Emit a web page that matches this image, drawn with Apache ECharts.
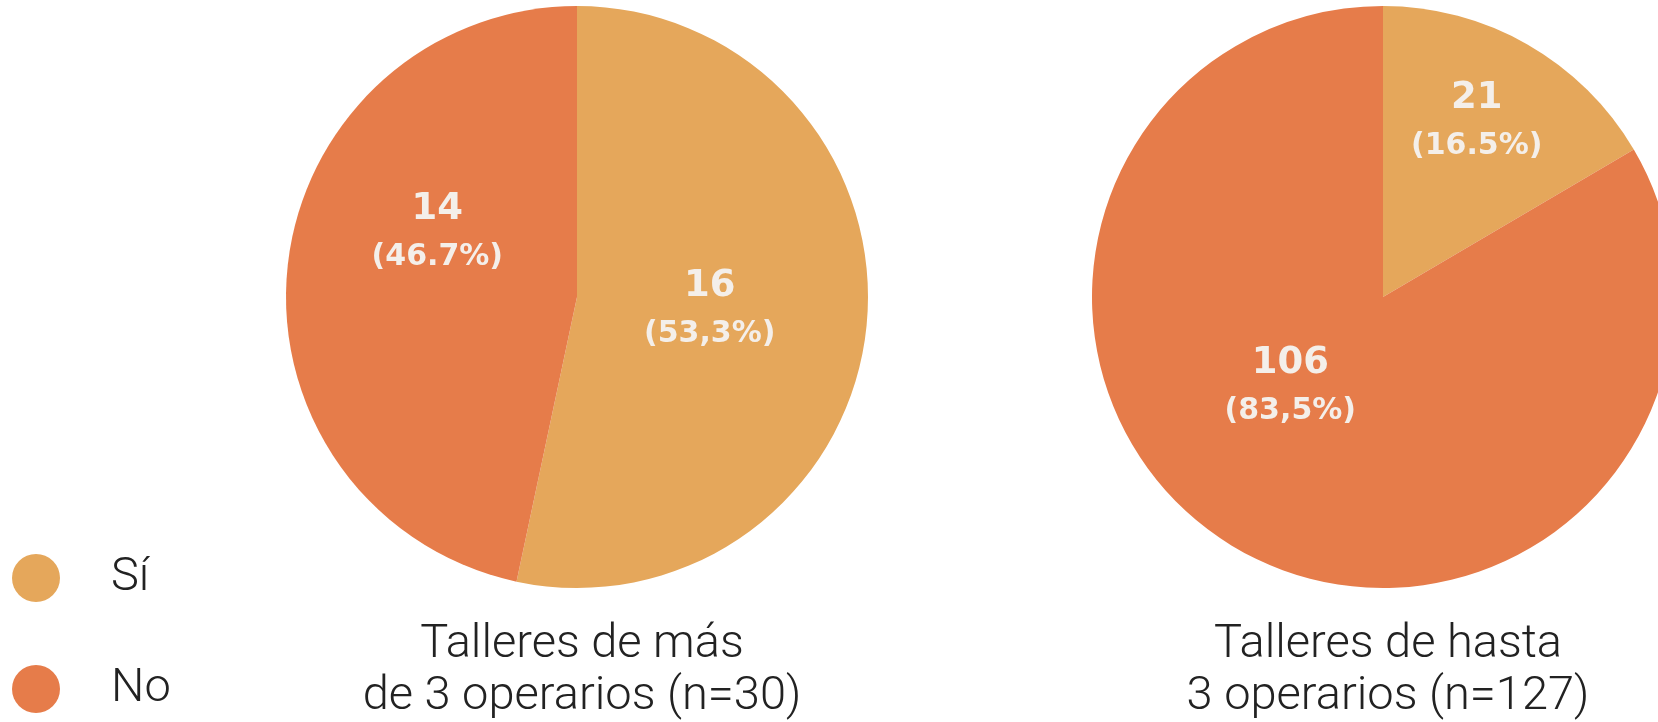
<!DOCTYPE html>
<html>
<head>
<meta charset="utf-8">
<script src="https://cdn.jsdelivr.net/npm/echarts@6/dist/echarts.min.js"></script>
<style>
  html, body { margin: 0; padding: 0; background: #fff; }
  #chart { width: 1658px; height: 722px; }
</style>
</head>
<body>
<div id="chart"></div>
<script>
// data
var categories = ['Sí', 'No'];
var masDe3 = [16, 14];
var hasta3 = [21, 106];
var pctMasDe3 = ['(53,3%)', '(46.7%)'];
var pctHasta3 = ['(16.5%)', '(83,5%)'];
var groupTitles = ['Talleres de más\nde 3 operarios (n=30)', 'Talleres de hasta\n3 operarios (n=127)'];

var colorSi = '#e5a75b';
var colorNo = '#e67c4a';
var lightFont = 'Roboto';

function makeLabel(pcts) {
    return {
        show: true,
        position: 'inside',
        formatter: function (p) {
            return '{v|' + p.value + '}\n{p|' + pcts[p.dataIndex] + '}';
        },
        rich: {
            v: { fontFamily: 'DejaVu Sans', fontWeight: 'bold', fontSize: 37, color: '#f4efea', lineHeight: 48 },
            p: { fontFamily: 'DejaVu Sans', fontWeight: 'bold', fontSize: 30, color: '#f4efea', lineHeight: 48 }
        }
    };
}

function makeData(values, shifts) {
    return categories.map(function (c, i) {
        return { name: c, value: values[i], label: { offset: shifts[i] } };
    });
}

var chart = echarts.init(document.getElementById('chart'));
var option = {
    animation: false,
    color: [colorSi, colorNo],
    title: [{
        text: groupTitles[0],
        left: 577,
        top: 614,
        textAlign: 'center',
        textStyle: { fontFamily: lightFont, fontWeight: 300, fontSize: 47, lineHeight: 52, color: '#222' }
    }, {
        text: groupTitles[1],
        left: 1383,
        top: 614,
        textAlign: 'center',
        textStyle: { fontFamily: lightFont, fontWeight: 300, fontSize: 47, lineHeight: 52, color: '#222' }
    }],
    legend: {
        orient: 'vertical',
        left: 12,
        top: 554,
        padding: 0,
        itemWidth: 48,
        itemHeight: 48,
        itemGap: 63,
        icon: 'circle',
        selectedMode: false,
        textStyle: { fontFamily: lightFont, fontWeight: 300, fontSize: 47, lineHeight: 48, color: '#222', padding: [0, 0, 0, 46] },
        data: categories
    },
    series: [{
        type: 'pie',
        center: [577, 297],
        radius: 291,
        startAngle: 90,
        clockwise: true,
        silent: true,
        labelLine: { show: false },
        label: makeLabel(pctMasDe3),
        data: makeData(masDe3, [[-15, -2], [8, -48]])
    }, {
        type: 'pie',
        center: [1383, 297],
        radius: 291,
        startAngle: 90,
        clockwise: true,
        silent: true,
        labelLine: { show: false },
        label: makeLabel(pctHasta3),
        data: makeData(hasta3, [[20, -46], [-19, -39]])
    }]
};
chart.setOption(option);
</script>
</body>
</html>
